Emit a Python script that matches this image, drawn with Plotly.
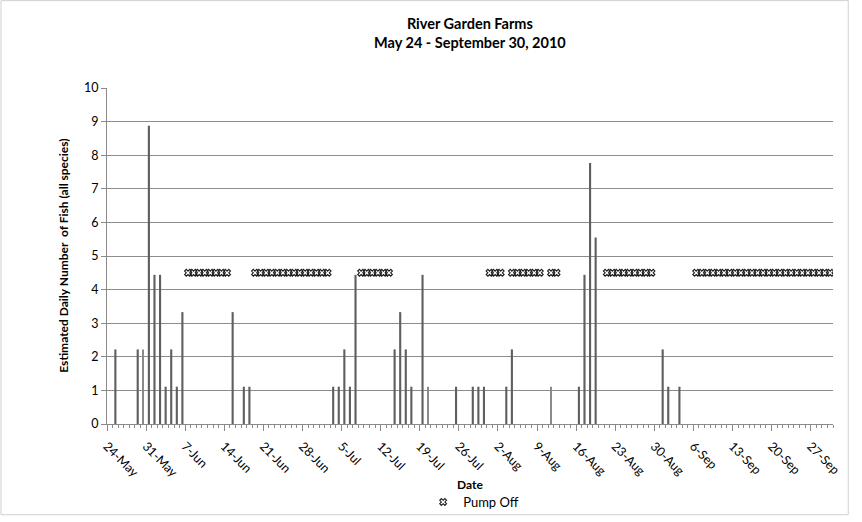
import pandas as pd
import plotly.graph_objects as go

# daily catch, only days with fish listed (all other days are 0)
fish_dates = ['2010-05-25', '2010-05-29', '2010-05-31', '2010-06-01', '2010-06-02',
              '2010-06-03', '2010-06-04', '2010-06-05', '2010-06-06', '2010-06-15',
              '2010-06-17', '2010-06-18', '2010-07-03', '2010-07-04', '2010-07-05',
              '2010-07-06', '2010-07-07', '2010-07-14', '2010-07-15', '2010-07-16',
              '2010-07-17', '2010-07-19', '2010-07-25', '2010-07-28', '2010-07-29',
              '2010-07-30', '2010-08-03', '2010-08-04', '2010-08-16', '2010-08-17',
              '2010-08-18', '2010-08-19', '2010-08-31', '2010-09-01', '2010-09-03']
fish_values = [2.22, 2.22, 8.88, 4.44, 4.44,
               1.11, 2.22, 1.11, 3.33, 3.33,
               1.11, 1.11, 1.11, 1.11, 2.22,
               1.11, 4.44, 2.22, 3.33, 2.22,
               1.11, 4.44, 1.11, 1.11, 1.11,
               1.11, 1.11, 2.22, 1.11, 4.44,
               7.77, 5.55, 2.22, 1.11, 1.11]

# thinner, lighter bars
thin_dates = ['2010-05-30', '2010-07-20', '2010-08-11']
thin_values = [2.22, 1.11, 1.11]

# pump off periods (start, end inclusive)
pump_off_periods = [('2010-06-07', '2010-06-14'), ('2010-06-19', '2010-07-02'),
                    ('2010-07-08', '2010-07-13'), ('2010-07-31', '2010-08-02'),
                    ('2010-08-04', '2010-08-09'), ('2010-08-11', '2010-08-12'),
                    ('2010-08-21', '2010-08-29'), ('2010-09-06', '2010-09-30')]
pump_off_level = 4.5

tick_labels = ['24-May', '31-May', '7-Jun', '14-Jun', '21-Jun', '28-Jun', '5-Jul',
               '12-Jul', '19-Jul', '26-Jul', '2-Aug', '9-Aug', '16-Aug', '23-Aug',
               '30-Aug', '6-Sep', '13-Sep', '20-Sep', '27-Sep']

DAY_MS = 86400000
pump_days = []
for start, end in pump_off_periods:
    pump_days += list(pd.date_range(start, end, freq='D'))

tick_dates = pd.date_range('2010-05-24', periods=len(tick_labels), freq='7D') - pd.Timedelta(hours=12)

font = 'Lato, Carlito, Calibri, sans-serif'

fig = go.Figure()

fig.add_trace(go.Bar(
    x=pd.to_datetime(fish_dates), y=fish_values,
    width=DAY_MS * 0.38,
    marker=dict(color='#5f5f5f', line=dict(width=0)),
    showlegend=False, hoverinfo='x+y'
))

fig.add_trace(go.Bar(
    x=pd.to_datetime(thin_dates), y=thin_values,
    width=DAY_MS * 0.2,
    marker=dict(color='#8a8a8a', line=dict(width=0)),
    showlegend=False, hoverinfo='x+y'
))

fig.add_trace(go.Scatter(
    x=pump_days, y=[pump_off_level] * len(pump_days),
    mode='markers',
    marker=dict(symbol='x-open', size=6, color='#1e1e1e', line=dict(width=1.1)),
    name='Pump Off'
))

fig.update_layout(
    width=862, height=522,
    margin=dict(l=107, r=29, t=88, b=98),
    paper_bgcolor='white', plot_bgcolor='white',
    font=dict(family=font, size=12, color='black'),
    barmode='overlay',
    xaxis=dict(
        type='date', automargin=False,
        range=['2010-05-23 12:00', '2010-09-30 12:00'],
        tickvals=tick_dates, ticktext=tick_labels,
        tickangle=45, ticklabelstandoff=3,
        ticks='outside', ticklen=6, tickcolor='#8a8a8a',
        showline=True, linecolor='#8a8a8a', linewidth=1,
        showgrid=False, zeroline=False,
        minor=dict(ticks='outside', ticklen=3, tickcolor='#8a8a8a',
                   dtick=DAY_MS, tick0='2010-05-23 12:00', showgrid=False),
        tickfont=dict(size=12.5)
    ),
    yaxis=dict(
        range=[0, 10], dtick=1, automargin=False,
        showgrid=True, gridcolor='#8c8c8c', gridwidth=1,
        showline=True, linecolor='#8a8a8a', linewidth=1,
        ticks='outside', ticklen=5, tickcolor='#8a8a8a',
        zeroline=False, tickfont=dict(size=12.5)
    ),
    legend=dict(
        orientation='h', x=0.505, xanchor='center',
        yref='container', y=0.067, yanchor='top',
        font=dict(size=13), bgcolor='rgba(0,0,0,0)', itemwidth=30
    ),
    annotations=[
        dict(text='<b>River Garden Farms</b><br><b>May 24 - September 30, 2010</b>',
             xref='paper', yref='paper', x=0.5, y=1.165, yanchor='middle',
             showarrow=False, font=dict(size=14.5)),
        dict(text='<b>Date</b>', xref='paper', yref='paper', x=0.5, y=-0.18,
             yanchor='middle', showarrow=False, font=dict(size=12)),
        dict(text='<b>Estimated Daily Number  of Fish (all species)</b>',
             xref='paper', yref='paper', x=-0.061, y=0.5, textangle=-90,
             xanchor='center', yanchor='middle', showarrow=False, font=dict(size=12)),
    ],
    shapes=[
        dict(type='rect', xref='paper', yref='paper', x0=-0.146, x1=1.021,
             y0=-0.27, y1=1.26, line=dict(color='#d0d0d0', width=1))
    ]
)

fig.write_html('out.html', config={'displayModeBar': False},
               post_script="document.body.style.margin='0';")
